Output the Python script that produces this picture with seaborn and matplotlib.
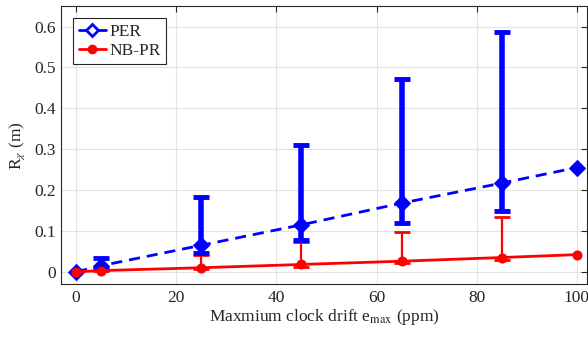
import numpy as np
import pandas as pd
import matplotlib
matplotlib.use("Agg")
import matplotlib.pyplot as plt
import seaborn as sns
from matplotlib.lines import Line2D

# data
drift = [0, 5, 25, 45, 65, 85, 100]
per_mean = [0.0, 0.015, 0.065, 0.115, 0.168, 0.217, 0.255]
nbpr_mean = [0.0, 0.003, 0.010, 0.018, 0.026, 0.035, 0.042]

eb_x = [5, 25, 45, 65, 85]
per_low = [0.008, 0.046, 0.078, 0.120, 0.149]
per_high = [0.035, 0.183, 0.311, 0.471, 0.587]
nbpr_low = [0.001, 0.006, 0.012, 0.022, 0.028]
nbpr_high = [0.006, 0.040, 0.073, 0.097, 0.135]

sns.set_style("whitegrid")
plt.rcParams['font.family'] = ['Liberation Serif', 'DejaVu Serif']
plt.rcParams['mathtext.fontset'] = 'stix'

fig = plt.figure(figsize=(5.88, 3.37), dpi=100)
ax = fig.add_axes([0.104, 0.157, 0.894, 0.825])

df = pd.DataFrame({'drift': drift, 'PER': per_mean, 'NB-PR': nbpr_mean})

# error bars
em = np.interp(eb_x, drift, per_mean)
ax.errorbar(eb_x, em, yerr=[em - np.array(per_low), np.array(per_high) - em],
            fmt='none', ecolor='blue', elinewidth=4, capsize=6, capthick=3.5, zorder=3)
en = np.interp(eb_x, drift, nbpr_mean)
ax.errorbar(eb_x, en, yerr=[en - np.array(nbpr_low), np.array(nbpr_high) - en],
            fmt='none', ecolor='red', elinewidth=1.6, capsize=6, capthick=2, zorder=2)

sns.lineplot(data=df, x='drift', y='PER', ax=ax, color='blue', linewidth=2,
             linestyle=(0, (4, 2.5)), marker='D', markersize=8, markeredgecolor='blue',
             zorder=4)
sns.lineplot(data=df, x='drift', y='NB-PR', ax=ax, color='red', linewidth=2,
             marker='o', markersize=6.5, markeredgecolor='red', zorder=4)

ax.set_xlim(-3, 102)
ax.set_ylim(-0.03, 0.65)
ax.set_xticks([0, 20, 40, 60, 80, 100])
ax.set_yticks([0, 0.1, 0.2, 0.3, 0.4, 0.5, 0.6])
ax.set_yticklabels(['0', '0.1', '0.2', '0.3', '0.4', '0.5', '0.6'])
ax.grid(True, color='#e3e3e3', linewidth=0.8)
ax.tick_params(direction='in', length=4, width=0.8, colors='#262626',
               labelsize=12.5, top=True, right=True, labelcolor='#262626', pad=4)
for s in ax.spines.values():
    s.set_color('#262626')
    s.set_linewidth(0.8)

ax.set_xlabel('Maxmium clock drift e$_{\\mathrm{max}}$ (ppm)', fontsize=12.5, color='#262626', labelpad=1)
ax.set_ylabel('R$_{\\chi}$ (m)', fontsize=12.5, color='#262626', labelpad=5)

handles = [Line2D([], [], color='blue', linewidth=2, marker='D', markersize=6,
                  markerfacecolor='white', markeredgecolor='blue', markeredgewidth=2),
           Line2D([], [], color='red', linewidth=2, marker='o', markersize=6)]
leg = ax.legend(handles, ['PER', 'NB-PR'], loc='upper left', fontsize=12.5,
                fancybox=False, framealpha=1, edgecolor='#262626',
                handlelength=1.6, borderpad=0.3, labelspacing=0.2,
                handletextpad=0.2, borderaxespad=0.7)
leg.get_frame().set_linewidth(0.8)

fig.savefig('out.png', dpi=100)
